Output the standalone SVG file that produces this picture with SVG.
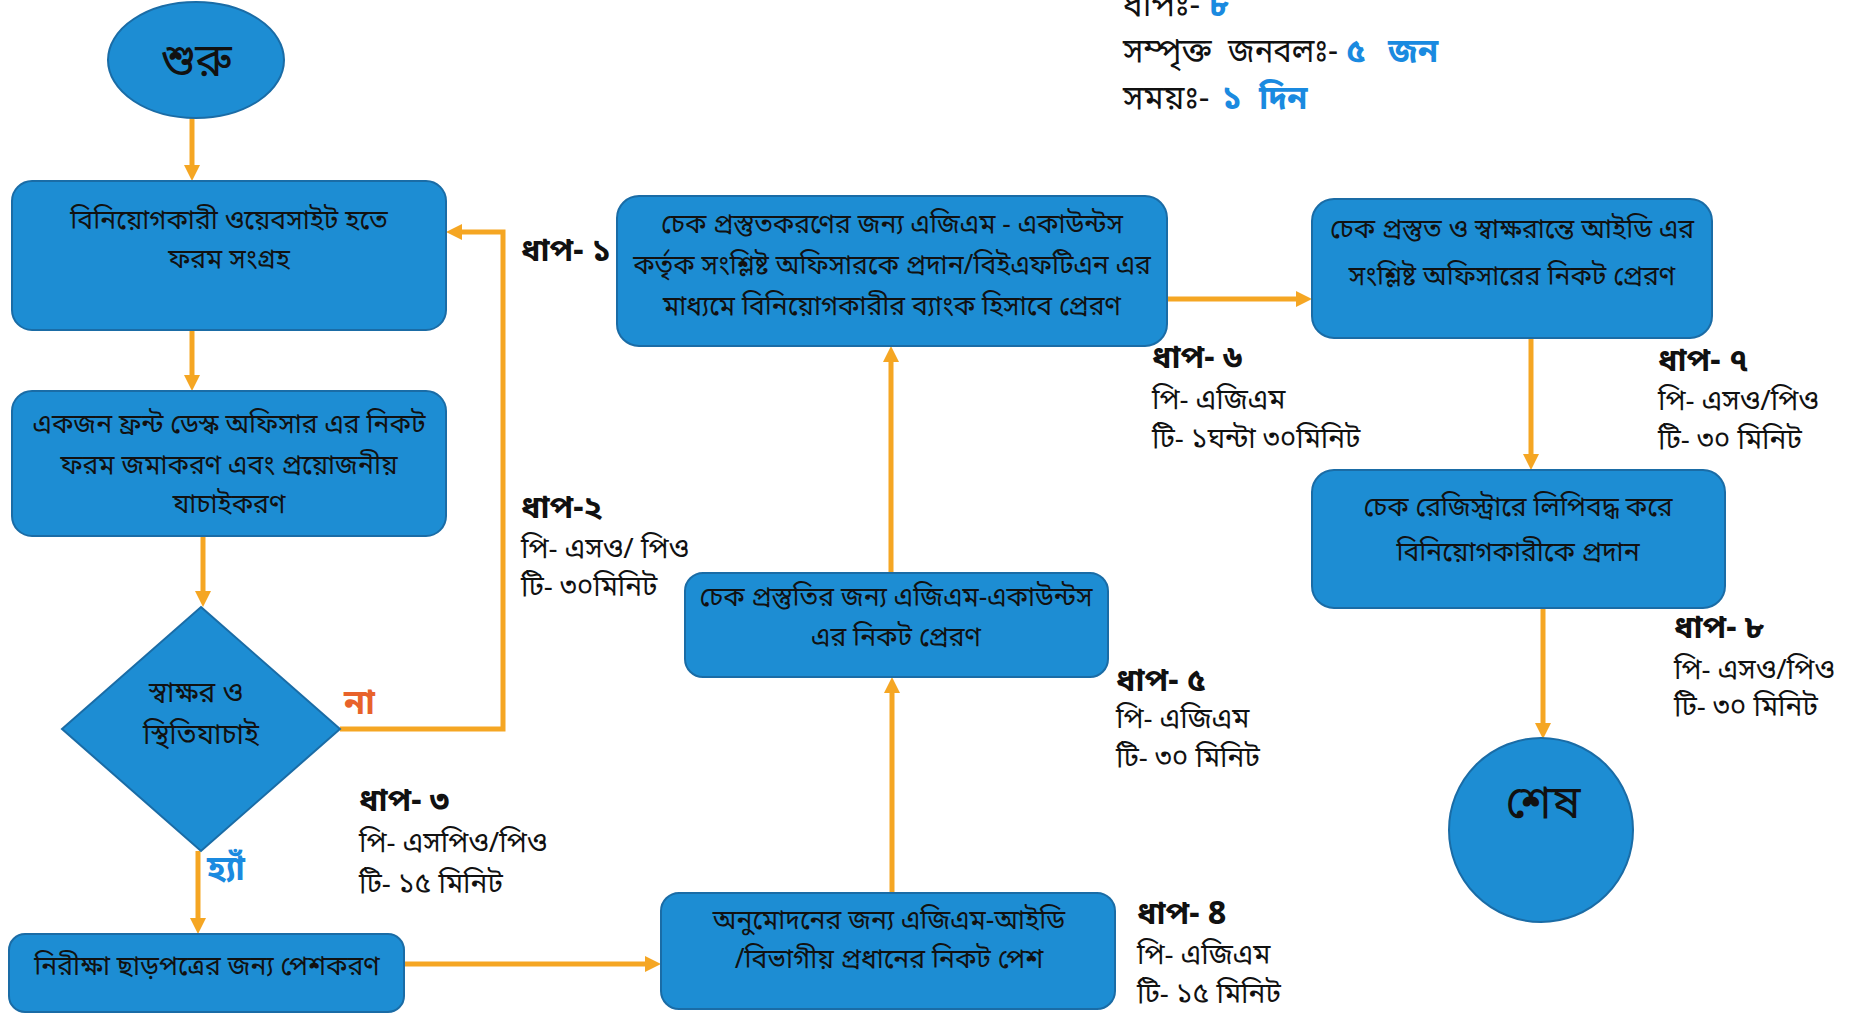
<svg xmlns="http://www.w3.org/2000/svg" width="1857" height="1014" viewBox="0 0 1857 1014">
<style>
text { font-family: "Noto Sans Bengali", "Noto Serif Bengali", "Lohit Bengali", "Noto Sans", sans-serif; fill: #111; }
.box { fill: #1D8DD3; stroke: #1A6CA6; stroke-width: 2; }
.t { font-size: 26.5px; text-anchor: middle; }
.big { font-size: 46px; text-anchor: middle; }
.step { font-size: 32px; font-weight: bold; }
.info { font-size: 28px; }
.top { font-size: 33px; }
.blue { fill: #1A8AE0; font-weight: bold; }
.conn { stroke: #F5A623; stroke-width: 5; fill: none; marker-end: url(#ah); }
</style>
<defs>
<marker id="ah" viewBox="0 0 16 16" markerWidth="16" markerHeight="16" markerUnits="userSpaceOnUse" refX="6" refY="8" orient="auto">
<path d="M0,0 L16,8 L0,16 z" fill="#F5A623"/>
</marker>
</defs>
<rect width="1857" height="1014" fill="#fff"/>

<g id="connectors">
<path class="conn" d="M192,118 V171"/>
<path class="conn" d="M192,330 V381"/>
<path class="conn" d="M203,536 V597"/>
<path class="conn" d="M340,729 H503 V232 H456"/>
<path class="conn" d="M198,851 V924"/>
<path class="conn" d="M404,964 H651"/>
<path class="conn" d="M892,893 V687"/>
<path class="conn" d="M891,573 V356"/>
<path class="conn" d="M1167,299 H1302"/>
<path class="conn" d="M1531,338 V460"/>
<path class="conn" d="M1543,608 V729"/>
</g>

<g id="start">
<ellipse class="box" cx="196" cy="60" rx="88" ry="58"/>
<text class="big" x="196" y="76">শুরু</text>
</g>

<g id="n1">
<rect class="box" x="12" y="181" width="434" height="149" rx="20"/>
<text class="t" x="229" y="229">বিনিয়োগকারী ওয়েবসাইট হতে</text>
<text class="t" x="229" y="268">ফরম সংগ্রহ</text>
</g>

<g id="n2">
<rect class="box" x="12" y="391" width="434" height="145" rx="20"/>
<text class="t" x="229" y="433">একজন ফ্রন্ট ডেস্ক অফিসার এর নিকট</text>
<text class="t" x="229" y="474">ফরম জমাকরণ এবং প্রয়োজনীয়</text>
<text class="t" x="229" y="513">যাচাইকরণ</text>
</g>

<g id="decision">
<polygon class="box" points="201,607 340,729 201,851 62,729"/>
<text class="t" x="196" y="702" style="font-size:28px">স্বাক্ষর ও</text>
<text class="t" x="201" y="744" style="font-size:28px">স্থিতিযাচাই</text>
</g>

<g id="n3">
<rect class="box" x="9" y="934" width="395" height="78" rx="16"/>
<text class="t" x="207" y="975">নিরীক্ষা ছাড়পত্রের জন্য পেশকরণ</text>
</g>

<g id="n4">
<rect class="box" x="661" y="893" width="454" height="116" rx="18"/>
<text class="t" x="889" y="929">অনুমোদনের জন্য এজিএম-আইডি</text>
<text class="t" x="889" y="968">/বিভাগীয় প্রধানের নিকট পেশ</text>
</g>

<g id="n5">
<rect class="box" x="685" y="573" width="423" height="104" rx="18"/>
<text class="t" x="896" y="606">চেক প্রস্তুতির জন্য এজিএম-একাউন্টস</text>
<text class="t" x="896" y="646">এর নিকট প্রেরণ</text>
</g>

<g id="n6">
<rect class="box" x="617" y="196" width="550" height="150" rx="22"/>
<text class="t" x="892" y="233">চেক প্রস্তুতকরণের জন্য এজিএম - একাউন্টস</text>
<text class="t" x="892" y="274">কর্তৃক সংশ্লিষ্ট অফিসারকে প্রদান/বিইএফটিএন এর</text>
<text class="t" x="892" y="315">মাধ্যমে বিনিয়োগকারীর ব্যাংক হিসাবে প্রেরণ</text>
</g>

<g id="n7">
<rect class="box" x="1312" y="199" width="400" height="139" rx="22"/>
<text class="t" x="1512" y="238">চেক প্রস্তুত ও স্বাক্ষরান্তে আইডি এর</text>
<text class="t" x="1512" y="285">সংশ্লিষ্ট অফিসারের নিকট প্রেরণ</text>
</g>

<g id="n8">
<rect class="box" x="1312" y="470" width="413" height="138" rx="22"/>
<text class="t" x="1518" y="516">চেক রেজিস্ট্রারে লিপিবদ্ধ করে</text>
<text class="t" x="1518" y="561">বিনিয়োগকারীকে প্রদান</text>
</g>

<g id="end">
<circle class="box" cx="1541" cy="830" r="92"/>
<text class="big" x="1543" y="818">শেষ</text>
</g>

<g id="labels">
<text x="344" y="714" style="font-size:34px;font-weight:bold;fill:#E8622A">না</text>
<text x="207" y="880" style="font-size:34px;font-weight:bold;fill:#1A8AE0">হ্যাঁ</text>

<text class="step" x="521" y="261">ধাপ- ১</text>

<text class="step" x="521" y="518">ধাপ-২</text>
<text class="info" x="521" y="558">পি- এসও/ পিও</text>
<text class="info" x="521" y="596">টি- ৩০মিনিট</text>

<text class="step" x="359" y="811">ধাপ- ৩</text>
<text class="info" x="359" y="852">পি- এসপিও/পিও</text>
<text class="info" x="359" y="893">টি- ১৫ মিনিট</text>

<text class="step" x="1137" y="924">ধাপ- 8</text>
<text class="info" x="1137" y="964">পি- এজিএম</text>
<text class="info" x="1137" y="1003">টি- ১৫ মিনিট</text>

<text class="step" x="1116" y="691">ধাপ- ৫</text>
<text class="info" x="1116" y="728">পি- এজিএম</text>
<text class="info" x="1116" y="767">টি- ৩০ মিনিট</text>

<text class="step" x="1152" y="368">ধাপ- ৬</text>
<text class="info" x="1152" y="409">পি- এজিএম</text>
<text class="info" x="1152" y="448">টি- ১ঘন্টা ৩০মিনিট</text>

<text class="step" x="1658" y="371">ধাপ- ৭</text>
<text class="info" x="1658" y="410">পি- এসও/পিও</text>
<text class="info" x="1658" y="449">টি- ৩০ মিনিট</text>

<text class="step" x="1674" y="638">ধাপ- ৮</text>
<text class="info" x="1674" y="679">পি- এসও/পিও</text>
<text class="info" x="1674" y="716">টি- ৩০ মিনিট</text>
</g>

<g id="summary">
<text class="top" x="1123" y="16">ধাপঃ- <tspan class="blue">৮</tspan></text>
<text class="top" x="1123" y="62">সম্পৃক্ত</text>
<text class="top" x="1228" y="62" textLength="110" lengthAdjust="spacingAndGlyphs">জনবলঃ-</text>
<text class="top blue" x="1346" y="62">৫</text>
<text class="top blue" x="1388" y="62">জন</text>
<text class="top" x="1123" y="109">সময়ঃ-</text>
<text class="top blue" x="1222" y="109">১</text>
<text class="top blue" x="1259" y="109">দিন</text>
</g>
</svg>
